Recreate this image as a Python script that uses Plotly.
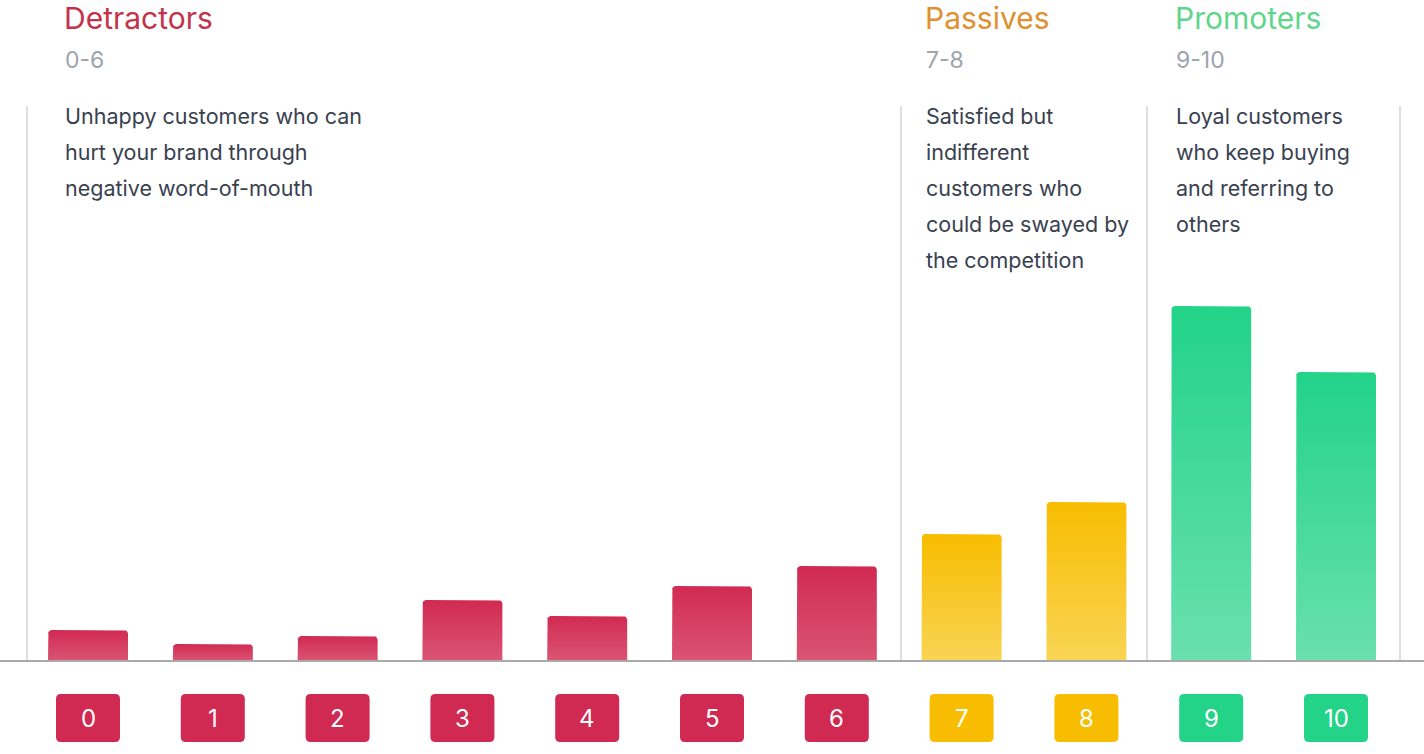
import numpy as np
import plotly.graph_objects as go

# NPS score distribution
scores = list(range(11))
counts = [31, 17, 25, 61, 45, 75, 95, 127, 159, 355, 289]
groups = ['det'] * 7 + ['pas'] * 2 + ['pro'] * 2

group_names = ['Detractors', 'Passives', 'Promoters']
group_ranges = ['0-6', '7-8', '9-10']
group_desc = [
    ['Unhappy customers who can', 'hurt your brand through', 'negative word-of-mouth'],
    ['Satisfied but', 'indifferent', 'customers who', 'could be swayed by', 'the competition'],
    ['Loyal customers', 'who keep buying', 'and referring to', 'others'],
]

W, H = 1424, 754
STEP = 124.8          # px between bar centres
X0 = 88               # px of first bar centre
BASE = 661            # px of baseline
BAR_W = 80

top_col = {'det': '#d12a52', 'pas': '#f8bd00', 'pro': '#22d388'}
bot_col = {'det': '#da5573', 'pas': '#f9d455', 'pro': '#6ae0ae'}
box_col = {'det': '#d12a52', 'pas': '#f8bd00', 'pro': '#22d388'}
head_col = ['#c3324a', '#e0902f', '#5fd68b']

xr = [-X0 / STEP, (W - X0) / STEP]
yr = [-(H - BASE), BASE]
ux = 1 / STEP  # data units per px in x


def px_x(p):
    return p / W


def px_y(p):
    return 1 - p / H


def rounded_bar(xc, h, r=4):
    hw = BAR_W / 2 * ux
    rx = r * ux
    t = np.linspace(0, np.pi / 2, 8)
    xs = [xc - hw]
    ys = [0]
    xs += list(xc - hw + rx - rx * np.cos(t))
    ys += list(h - r + r * np.sin(t))
    xs += list(xc + hw - rx + rx * np.sin(t))
    ys += list(h - r + r * np.cos(t))
    xs += [xc + hw, xc - hw]
    ys += [0, 0]
    return xs, ys


def rounded_rect_path(xc, yc, w, h, r=5):
    x0, x1 = xc - w / 2 * ux, xc + w / 2 * ux
    y0, y1 = yc - h / 2, yc + h / 2
    rx = r * ux
    return (f'M {x0 + rx},{y0} L {x1 - rx},{y0} Q {x1},{y0} {x1},{y0 + r} '
            f'L {x1},{y1 - r} Q {x1},{y1} {x1 - rx},{y1} '
            f'L {x0 + rx},{y1} Q {x0},{y1} {x0},{y1 - r} '
            f'L {x0},{y0 + r} Q {x0},{y0} {x0 + rx},{y0} Z')


fig = go.Figure()

for s, c, g in zip(scores, counts, groups):
    xs, ys = rounded_bar(s, c)
    fig.add_trace(go.Scatter(
        x=xs, y=ys, mode='lines', fill='toself',
        line=dict(width=0),
        fillgradient=dict(type='vertical',
                          colorscale=[[0, bot_col[g]], [1, top_col[g]]]),
        hoverinfo='skip', showlegend=False,
    ))

shapes = []
# separators
for xp in [27, 901, 1147, 1400]:
    shapes.append(dict(type='line', xref='paper', yref='paper',
                       x0=px_x(xp), x1=px_x(xp), y0=px_y(106), y1=px_y(BASE),
                       line=dict(color='#dedede', width=2), layer='below'))
# baseline
shapes.append(dict(type='line', xref='paper', yref='y', x0=0, x1=1, y0=0, y1=0,
                   line=dict(color='#aaaaaa', width=2), layer='above'))

annotations = []
ybox = -(718 - BASE)
for s, g in zip(scores, groups):
    shapes.append(dict(type='path', xref='x', yref='y',
                       path=rounded_rect_path(s, ybox, 64, 48),
                       fillcolor=box_col[g], line=dict(width=0)))
    annotations.append(dict(x=s, y=ybox, xref='x', yref='y',
                            text=str(s), showarrow=False,
                            font=dict(size=24, color='white', family='Inter')))

head_x = [63, 924, 1174]
for i in range(3):
    annotations.append(dict(x=px_x(head_x[i]), y=px_y(18), xref='paper', yref='paper',
                            xanchor='left', yanchor='middle', showarrow=False,
                            borderpad=0, text=group_names[i],
                            font=dict(size=30, color=head_col[i], family='Inter')))
    annotations.append(dict(x=px_x(head_x[i]), y=px_y(60), xref='paper', yref='paper',
                            xanchor='left', yanchor='middle', showarrow=False,
                            text=group_ranges[i],
                            font=dict(size=23, color='#9ca4ac', family='Inter')))
    for j, line in enumerate(group_desc[i]):
        annotations.append(dict(x=px_x(head_x[i]), y=px_y(116 + 36 * j),
                                xref='paper', yref='paper',
                                xanchor='left', yanchor='middle', showarrow=False,
                                text=line,
                                font=dict(size=21.5, color='#394150', family='Inter')))

fig.update_layout(
    width=W, height=H,
    margin=dict(l=0, r=0, t=0, b=0),
    paper_bgcolor='white', plot_bgcolor='white',
    xaxis=dict(range=xr, visible=False, fixedrange=True),
    yaxis=dict(range=yr, visible=False, fixedrange=True),
    shapes=shapes, annotations=annotations,
    showlegend=False,
)

# drop the default page margin so the figure fills the window exactly
fig.write_html('out.html', config={'displayModeBar': False},
               post_script="document.body.style.margin='0';")
